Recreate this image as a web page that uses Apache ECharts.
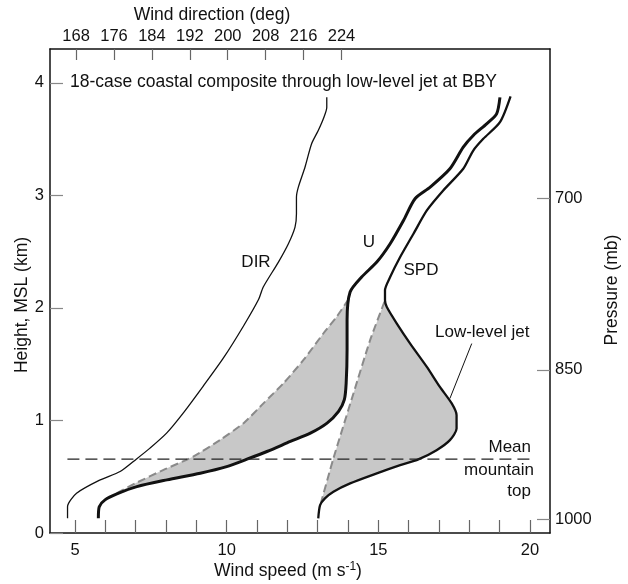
<!DOCTYPE html>
<html>
<head>
<meta charset="utf-8">
<script src="https://cdn.jsdelivr.net/npm/echarts@6/dist/echarts.min.js"></script>
<style>
  html, body { margin: 0; padding: 0; background: #fff; }
  #chart { width: 628px; height: 584px; }
</style>
</head>
<body>
<div id="chart"></div>
<script>
// Composite wind profile: heights in km MSL
const uSpeed  = [5.77, 5.80, 5.99, 6.38, 7.04, 8.03, 9.13, 10.0, 10.67, 11.33, 12.10, 12.76, 13.31, 13.69, 13.88, 13.94, 13.97, 13.97, 14.07, 14.45, 14.95, 15.39, 15.83, 16.21, 16.71, 17.36, 17.80, 18.13, 18.57, 18.90, 19.01];
const uHeight = [0.131, 0.234, 0.294, 0.347, 0.412, 0.472, 0.531, 0.590, 0.656, 0.724, 0.813, 0.887, 0.976, 1.080, 1.184, 1.332, 1.629, 1.890, 2.141, 2.274, 2.407, 2.570, 2.777, 2.970, 3.073, 3.236, 3.428, 3.532, 3.635, 3.724, 3.870];

const spdSpeed  = [13.02, 13.08, 13.24, 13.52, 14.07, 14.95, 15.72, 16.32, 16.92, 17.36, 17.58, 17.58, 17.42, 17.03, 16.60, 16.05, 15.61, 15.28, 15.22, 15.22, 15.39, 15.72, 16.16, 16.60, 17.14, 17.80, 18.13, 18.46, 19.01, 19.36];
const spdHeight = [0.130, 0.248, 0.308, 0.367, 0.441, 0.530, 0.603, 0.654, 0.736, 0.825, 0.929, 1.047, 1.151, 1.298, 1.476, 1.683, 1.861, 2.008, 2.067, 2.156, 2.274, 2.452, 2.659, 2.866, 3.043, 3.236, 3.398, 3.502, 3.650, 3.880];

const dirDeg    = [166.2, 166.2, 168.1, 173.1, 177.3, 180.7, 183.6, 187.1, 190.6, 194.8, 199.1, 203.3, 206.5, 207.5, 210.7, 212.8, 214.2, 214.5, 214.5, 214.9, 216.3, 217.7, 219.1, 220.3, 220.9, 220.9];
const dirHeight = [0.131, 0.234, 0.353, 0.472, 0.546, 0.656, 0.754, 0.887, 1.065, 1.303, 1.555, 1.837, 2.074, 2.186, 2.407, 2.570, 2.718, 2.837, 2.984, 3.073, 3.250, 3.458, 3.576, 3.694, 3.783, 3.871];

// Reference profiles bounding the shaded jet excess
const uRefSpeed    = [6.38, 7.04, 7.92, 8.91, 9.79, 10.56, 11.22, 11.88, 12.54, 13.20, 13.64, 14.0];
const uRefHeight   = [0.355, 0.448, 0.561, 0.680, 0.828, 0.976, 1.154, 1.332, 1.540, 1.777, 1.926, 2.070];
const spdRefSpeed  = [13.10, 13.52, 14.18, 14.73, 15.22];
const spdRefHeight = [0.260, 0.663, 1.240, 1.713, 2.067];

// Mean mountain-top height and extent of its reference line
const mountainTop = 0.656;
const mountainSpan = [4.75, 20.17];

// Leader from the jet label to the SPD nose
const jetLeader = [[18.08, 1.683], [17.36, 1.195]];

// Axis ticks
const speedTicks  = [5, 6, 7, 8, 9, 10, 11, 12, 13, 14, 15, 16, 17, 18, 19, 20];
const speedLabels = [5, 10, 15, 20];
const dirTicks    = [168, 176, 184, 192, 200, 208, 216, 224];
const heightTicks = [0, 1, 2, 3, 4];
const pressureLevels  = [1000, 850, 700];
const pressureHeights = [0.12, 1.45, 2.97];

const pairs = (xs, ys) => xs.map((x, i) => [x, ys[i]]);
const U   = pairs(uSpeed, uHeight);
const SPD = pairs(spdSpeed, spdHeight);
const DIR = pairs(dirDeg, dirHeight);
const uRef   = pairs(uRefSpeed, uRefHeight);
const spdRef = pairs(spdRefSpeed, spdRefHeight);

// closed outline between a reference profile and an observed profile
function band(ref, obs) {
  const lo = ref[0][1], hi = ref[ref.length - 1][1];
  const inside = obs.filter(p => p[1] > lo && p[1] < hi).reverse();
  return ref.concat(inside);
}
const uBand = band(uRef, U);
const spdBand = band(spdRef, SPD);

const FONT = '"Liberation Sans", Arial, Helvetica, sans-serif';
const INK = '#111';
const NAME_FONT = '17.5px ' + FONT;
const NOTE_FONT = '17px ' + FONT;

function fillSeries(poly) {
  return {
    type: 'custom',
    xAxisIndex: 0, yAxisIndex: 0,
    z: 1,
    silent: true,
    data: [[poly[0][0], poly[0][1]]],
    renderItem: function (params, api) {
      return {
        type: 'polygon',
        shape: { points: poly.map(p => api.coord(p)) },
        style: { fill: '#c8c8c8', stroke: null }
      };
    }
  };
}

function lineSeries(data, width, opts) {
  return Object.assign({
    type: 'line',
    data: data,
    xAxisIndex: 0, yAxisIndex: 0,
    showSymbol: false,
    symbol: 'none',
    smooth: 0.25,
    silent: true,
    z: 3,
    lineStyle: { color: INK, width: width }
  }, opts || {});
}

const chart = echarts.init(document.getElementById('chart'), null, { renderer: 'canvas' });

const baseAxis = {
  type: 'value',
  splitLine: { show: false },
  axisLine: { show: true, onZero: false, lineStyle: { color: INK, width: 1.5 } },
  axisTick: { inside: true, length: 13, lineStyle: { color: '#666', width: 1.2 } },
  axisLabel: { color: INK, fontSize: 16.5, fontFamily: FONT }
};

chart.setOption({
  animation: false,
  backgroundColor: '#fff',
  grid: { left: 50, right: 78, top: 49, bottom: 51, containLabel: false },
  xAxis: [
    Object.assign({}, baseAxis, {
      position: 'bottom',
      min: 4.176, max: 20.66,
      axisTick: Object.assign({}, baseAxis.axisTick, { customValues: speedTicks }),
      axisLabel: Object.assign({}, baseAxis.axisLabel, { customValues: speedLabels, margin: 9 })
    }),
    Object.assign({}, baseAxis, {
      position: 'top',
      min: 162.5, max: 268,
      axisTick: Object.assign({}, baseAxis.axisTick, { customValues: dirTicks, length: 11 }),
      axisLabel: Object.assign({}, baseAxis.axisLabel, { customValues: dirTicks, margin: 4 })
    })
  ],
  yAxis: [
    Object.assign({}, baseAxis, {
      position: 'left',
      min: 0, max: 4.3,
      axisTick: Object.assign({}, baseAxis.axisTick, { customValues: heightTicks, lineStyle: { color: '#888', width: 1.2 } }),
      axisLabel: Object.assign({}, baseAxis.axisLabel, { customValues: heightTicks, margin: 6 })
    }),
    Object.assign({}, baseAxis, {
      position: 'right',
      min: 0, max: 4.3,
      axisTick: Object.assign({}, baseAxis.axisTick, { customValues: pressureHeights, lineStyle: { color: '#888', width: 1.2 } }),
      axisLabel: Object.assign({}, baseAxis.axisLabel, {
        customValues: pressureHeights, margin: 5,
        formatter: function (v) {
          let best = 0;
          pressureHeights.forEach((h, i) => { if (Math.abs(h - v) < Math.abs(pressureHeights[best] - v)) best = i; });
          return String(pressureLevels[best]);
        }
      })
    })
  ],
  series: [
    fillSeries(uBand),
    fillSeries(spdBand),
    lineSeries(uRef, 2, { z: 2, smooth: 0.2, lineStyle: { color: '#8a8a8a', width: 2, type: [8, 4] } }),
    lineSeries(spdRef, 2, { z: 2, smooth: 0.2, lineStyle: { color: '#8a8a8a', width: 2, type: [8, 4] } }),
    lineSeries(U, 3),
    lineSeries(SPD, 2.3),
    lineSeries(DIR, 1.3, { xAxisIndex: 1 }),
    lineSeries([[mountainSpan[0], mountainTop], [mountainSpan[1], mountainTop]], 1.3,
      { smooth: false, z: 4, lineStyle: { color: '#222', width: 1.3, type: [12, 6] } }),
    lineSeries(jetLeader, 1, { smooth: false })
  ],
  graphic: [
    { type: 'text', x: 70, y: 82, style: { text: '18-case coastal composite through low-level jet at BBY', font: NAME_FONT, fill: INK, align: 'left', verticalAlign: 'middle' } },
    { type: 'text', x: 212, y: 15, style: { text: 'Wind direction (deg)', font: NAME_FONT, fill: INK, align: 'center', verticalAlign: 'middle' } },
    { type: 'text', x: 288, y: 571, style: {
        text: '{n|Wind speed (m s}{s|-1}{n|)}', align: 'center', verticalAlign: 'middle',
        rich: { n: { font: NAME_FONT, fill: INK }, s: { font: '12px ' + FONT, fill: INK, verticalAlign: 'top', padding: [0, 0, 8, 0] } } } },
    { type: 'text', x: 22, y: 305, rotation: Math.PI / 2, style: { text: 'Height, MSL (km)', font: NAME_FONT, fill: INK, align: 'center', verticalAlign: 'middle' } },
    { type: 'text', x: 612, y: 290, rotation: Math.PI / 2, style: { text: 'Pressure (mb)', font: NAME_FONT, fill: INK, align: 'center', verticalAlign: 'middle' } },
    { type: 'text', x: 256, y: 262, style: { text: 'DIR', font: NOTE_FONT, fill: INK, align: 'center', verticalAlign: 'middle' } },
    { type: 'text', x: 369, y: 242, style: { text: 'U', font: NOTE_FONT, fill: INK, align: 'center', verticalAlign: 'middle' } },
    { type: 'text', x: 421, y: 270, style: { text: 'SPD', font: NOTE_FONT, fill: INK, align: 'center', verticalAlign: 'middle' } },
    { type: 'text', x: 435, y: 332, style: { text: 'Low-level jet', font: NOTE_FONT, fill: INK, align: 'left', verticalAlign: 'middle' } },
    { type: 'text', x: 531, y: 447, style: { text: 'Mean', font: NOTE_FONT, fill: INK, align: 'right', verticalAlign: 'middle' } },
    { type: 'text', x: 534, y: 470, style: { text: 'mountain', font: NOTE_FONT, fill: INK, align: 'right', verticalAlign: 'middle' } },
    { type: 'text', x: 531, y: 491, style: { text: 'top', font: NOTE_FONT, fill: INK, align: 'right', verticalAlign: 'middle' } }
  ]
});
</script>
</body>
</html>
